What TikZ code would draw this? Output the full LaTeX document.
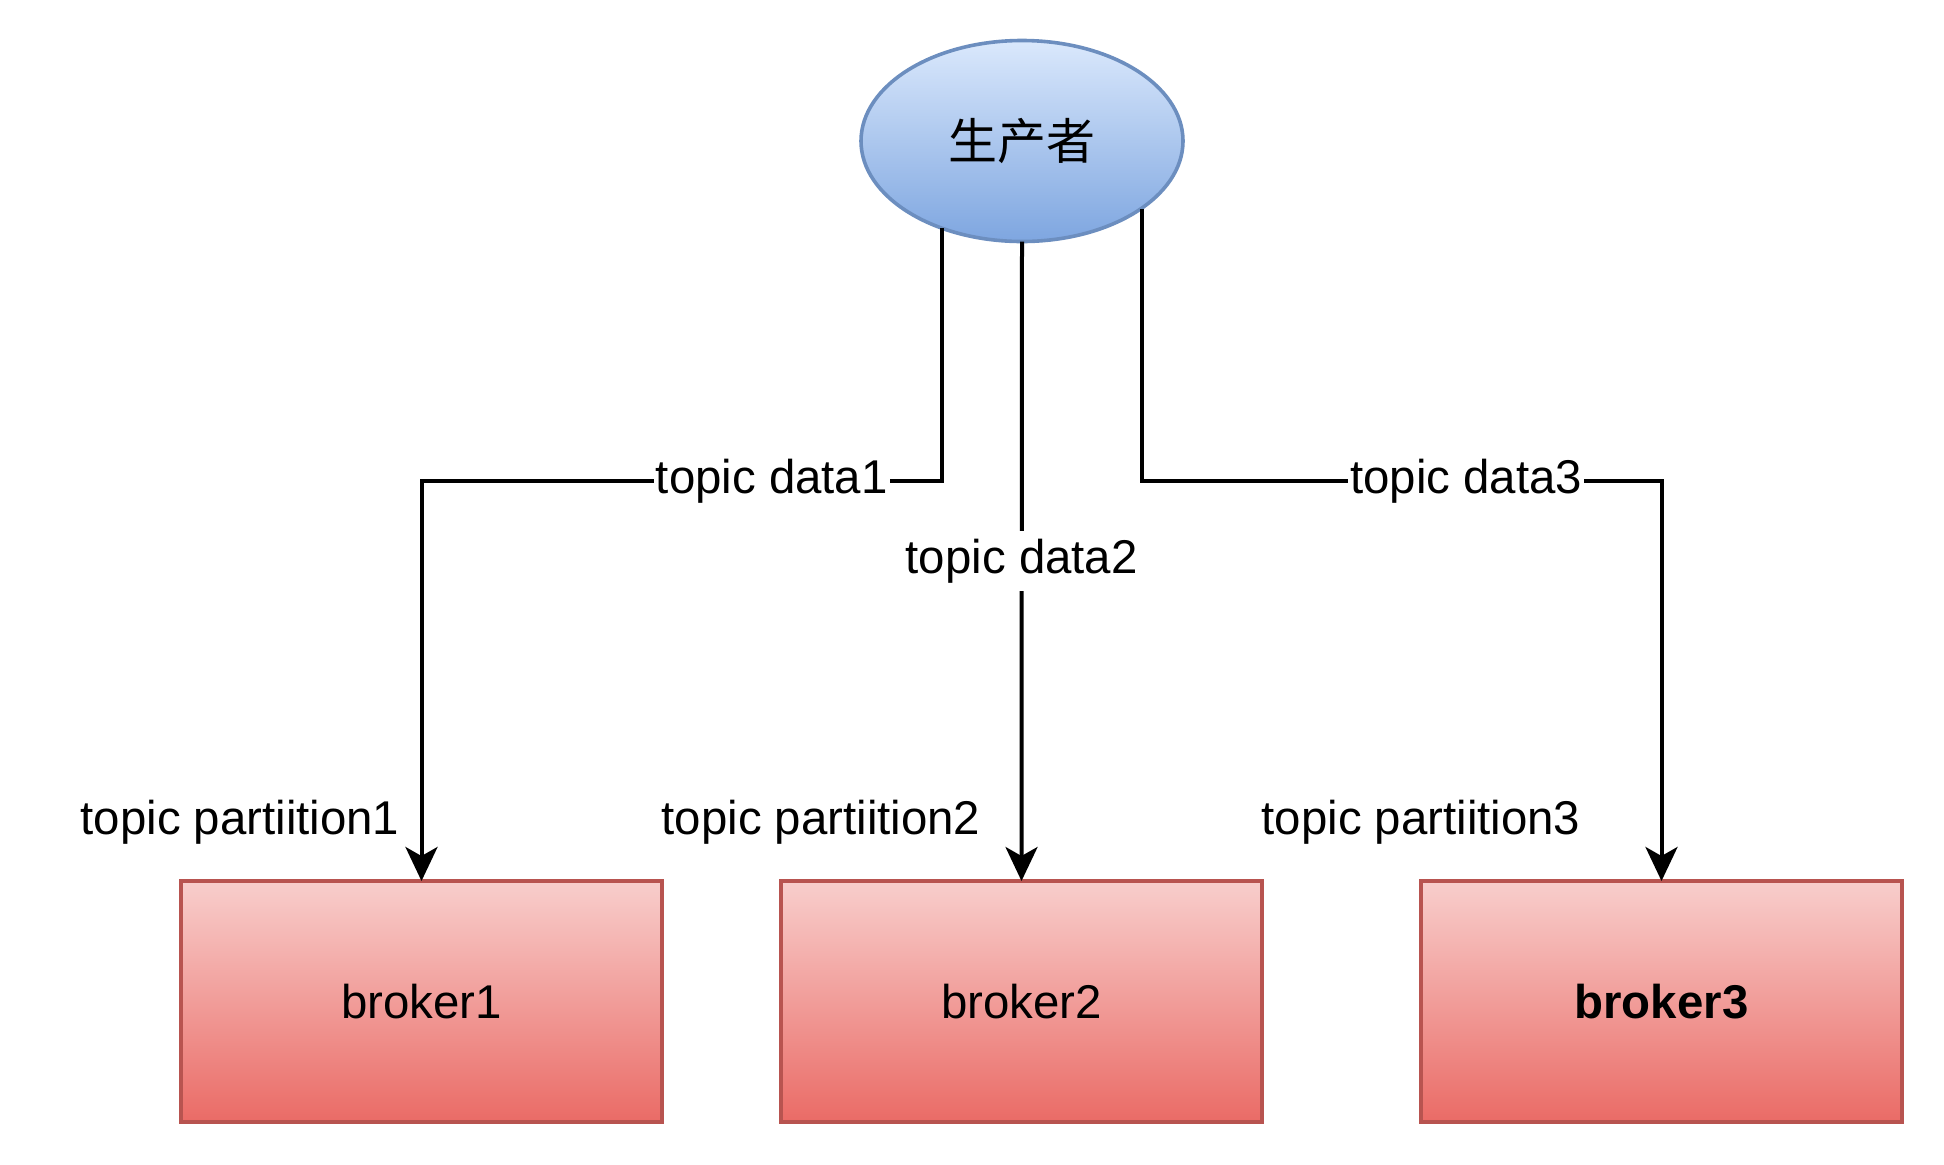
\documentclass[tikz,border=0pt]{standalone}
\usepackage{fontspec}
\setmainfont{Liberation Sans}
\newfontfamily\cjkfont{Noto Sans CJK SC}
\usetikzlibrary{arrows.meta,shapes.geometric}
\definecolor{blueTop}{HTML}{DAE8FC}
\definecolor{blueBot}{HTML}{7EA6E0}
\definecolor{blueLine}{HTML}{6C8EBF}
\definecolor{redTop}{HTML}{F8CECC}
\definecolor{redBot}{HTML}{EA6B66}
\definecolor{redLine}{HTML}{B85450}
\tikzset{
  txt/.style={font=\fontsize{23.7}{28}\selectfont},
  prodshape/.style={ellipse, draw=blueLine, line width=1.8pt, top color=blueTop, bottom color=blueBot,
    minimum width=161pt, minimum height=100.5pt, inner sep=0pt, outer sep=0pt, font=\fontsize{24.5}{28}\selectfont},
  brokerbox/.style={rectangle, draw=redLine, line width=2pt, top color=redTop, bottom color=redBot,
    minimum width=240.5pt, minimum height=120.5pt, inner sep=0pt, outer sep=0pt, txt},
  conn/.style={line width=2pt, -{Stealth[length=17pt, width=16pt, inset=4.5pt]}},
  lbl/.style={fill=white, inner xsep=1pt, inner ysep=4pt, txt, text=black},
  plabel/.style={inner sep=0pt, txt}
}
\begin{document}
\begin{tikzpicture}[x=0.5pt, y=-0.5pt]
\useasboundingbox (0,0) rectangle (1944,1164);
\node[prodshape] (prod) at (1022,141) {\cjkfont 生产者};
\node[brokerbox] (b1) at (421.5,1001.5) {broker1};
\node[brokerbox] (b2) at (1021.5,1001.5) {broker2};
\node[brokerbox] (b3) at (1661.5,1001.5) {\bfseries broker3};
\coordinate (k1a) at (942,481);
\coordinate (k1b) at (421.5,481);
\coordinate (k3a) at (1142,481);
\coordinate (k3b) at (1661.5,481);
\draw[conn] (prod.227.4 -| k1a) -- (k1a) -- node[lbl, pos=0.327] (l1) {topic data1} (k1b) -- (b1.north);
\draw[conn] (prod.south) -- node[lbl, pos=0.5] (l2) {topic data2} (b2.north);
\draw[conn] (prod.330.8 -| k3a) -- (k3a) -- node[lbl, pos=0.624] (l3) {topic data3} (k3b) -- (b3.north);
\node[plabel] (p1) at (240,822) {topic partiition1};
\node[plabel] (p2) at (821,822) {topic partiition2};
\node[plabel] (p3) at (1421,822) {topic partiition3};
\end{tikzpicture}
\end{document}
